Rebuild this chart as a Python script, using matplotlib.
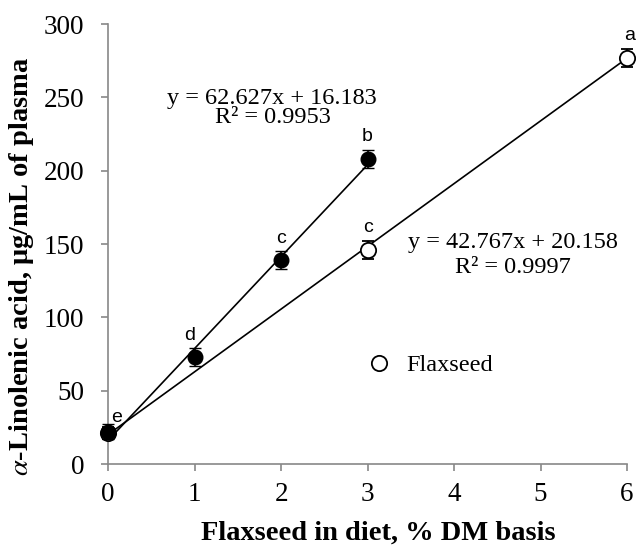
import matplotlib
matplotlib.use('Agg')
import matplotlib.pyplot as plt
from matplotlib.lines import Line2D
import numpy as np

plt.rcParams['font.family'] = ['Liberation Serif', 'DejaVu Serif']
plt.rcParams['mathtext.fontset'] = 'stix'

# data
dose_fill = [0, 1, 2, 3]
conc_fill = [22, 73, 139, 208]
err_fill = [5, 6, 6, 6]
letters_fill = ['e', 'd', 'c', 'b']

dose_open = [0, 3, 6]
conc_open = [21, 146, 277]
err_open = [4, 6, 6]
letters_open = ['', 'c', 'a']

slope_fill, icept_fill, r2_fill = 62.627, 16.183, 0.9953
slope_open, icept_open, r2_open = 42.767, 20.158, 0.9997

fig = plt.figure(figsize=(6.36, 5.46), dpi=100)
ax = fig.add_axes([0.17, 0.15, 0.816, 0.806])

# trend lines
xf = np.array([0, max(dose_fill)])
xo = np.array([0, max(dose_open)])
ax.plot(xf, slope_fill * xf + icept_fill, color='black', lw=1.2, clip_on=False)
ax.plot(xo, slope_open * xo + icept_open, color='black', lw=1.2, clip_on=False)

ax.errorbar(dose_open, conc_open, yerr=err_open, fmt='o', ms=11, mfc='white',
            mec='black', mew=1.3, ecolor='black', elinewidth=1.2, capsize=4,
            clip_on=False, zorder=3)
ax.errorbar(dose_fill, conc_fill, yerr=err_fill, fmt='o', ms=10.5, mfc='black',
            mec='black', ecolor='black', elinewidth=1.2, capsize=4,
            clip_on=False, zorder=4)

# significance letters
for x, y, t in zip(dose_fill, conc_fill, letters_fill):
    dx = 0.1 if x == 0 else -0.06 if x == 1 else 0
    dy = 10 if x == 0 else 15
    ax.text(x + dx, y + dy, t, family='Liberation Sans', fontsize=14,
            ha='center', va='center')
for x, y, t in zip(dose_open, conc_open, letters_open):
    ax.text(x + (0.03 if x == 6 else 0), y + 15, t, family='Liberation Sans',
            fontsize=14, ha='center', va='center')

ax.text(1.89, 249.5, f'y = {slope_fill}x + {icept_fill}', fontsize=17.5,
        ha='center', va='center')
ax.text(1.91, 236, f'R² = {r2_fill}', fontsize=17.5, ha='center', va='center')
ax.text(4.68, 151, f'y = {slope_open}x + {icept_open}', fontsize=17.5,
        ha='center', va='center')
ax.text(4.68, 134, f'R² = {r2_open}', fontsize=17.5, ha='center', va='center')

ax.set_xlim(0, 6)
ax.set_ylim(0, 300)
ax.set_xticks(range(0, 7))
ax.set_yticks(range(0, 301, 50))
for s in ['top', 'right']:
    ax.spines[s].set_visible(False)
for s in ['left', 'bottom']:
    ax.spines[s].set_color('#888888')
    ax.spines[s].set_linewidth(1.2)
ax.tick_params(direction='out', length=5, width=1.2, color='#888888',
               labelsize=19.5)
ax.tick_params(axis='y', pad=12)
ax.tick_params(axis='x', pad=8)

ax.set_xlabel('Flaxseed in diet, % DM basis', fontsize=20.5, fontweight='bold',
              va='center')
ax.set_ylabel(r'$\alpha$-Linolenic acid, μg/mL of plasma', fontsize=20.5,
              fontweight='bold', va='center')
ax.xaxis.set_label_coords(0.5 + (378 - 367) / 519, -0.157)
ax.yaxis.set_label_coords(-0.166, 0.45)

handle = Line2D([], [], ls='none', marker='o', ms=11, mfc='white', mec='black', mew=1.3)
ax.legend([handle], ['Flaxseed'], loc='center left', bbox_to_anchor=(0.499, 0.225),
          frameon=False, fontsize=17.5, handlelength=1, handletextpad=0.6,
          borderpad=0, borderaxespad=0)

plt.savefig('out.png', dpi=100)
plt.close(fig)
